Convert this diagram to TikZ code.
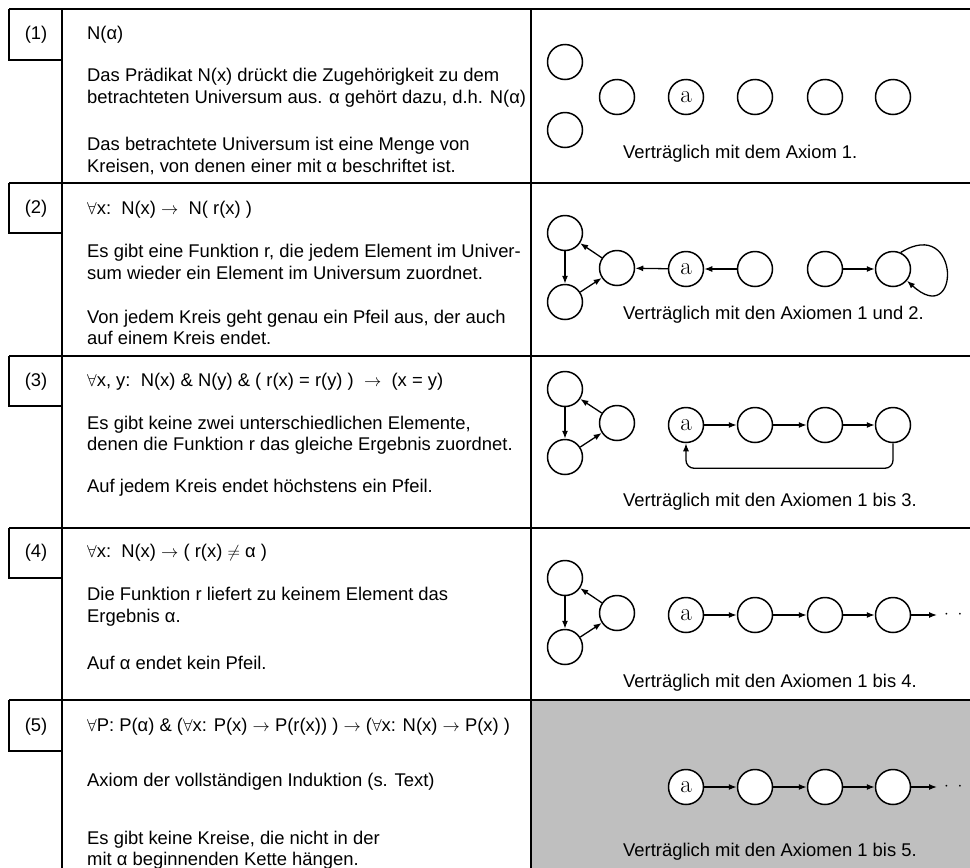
\documentclass[tikz,border=0pt]{standalone}
\usepackage{fontspec}
\setsansfont{Liberation Sans}
\usepackage{tikz}
\usetikzlibrary{positioning,arrows.meta}

\begin{document}
\begin{tikzpicture}[x=1pt,y=-1pt,font=\sffamily\fontsize{18.4}{21.5}\selectfont]
\tikzstyle{every node}+=[inner sep=0pt]
\tikzstyle{linie}=[line width=2pt]
\tikzstyle{kreis}=[draw,circle,minimum size=35pt,line width=1.5pt,fill=white,font=\rmfamily\fontsize{25}{25}\selectfont]
\tikzstyle{pfeil}=[line width=1.3pt,-{Latex[length=8pt,width=6pt]}]
\tikzstyle{txt}=[anchor=west,align=left]
\useasboundingbox (0,0) rectangle (970,868);
\fill [black!25] (531,700) rectangle (970,868);
\draw [linie] (9,9) -- (970,9);
\draw [linie] (9,183) -- (970,183);
\draw [linie] (9,356) -- (970,356);
\draw [linie] (9,528) -- (970,528);
\draw [linie] (9,700) -- (970,700);
\draw [linie] (9,9) |- (62,60);
\draw [linie] (9,183) |- (62,233);
\draw [linie] (9,356) |- (62,406);
\draw [linie] (9,528) |- (62,578);
\draw [linie] (9,700) |- (62,751);
\draw [linie] (62,9) -- (62,868);
\draw [linie] (531,9) -- (531,868);
\node (nr1) at (36,35) {(1)};
\node (nr2) at (36,209) {(2)};
\node (nr3) at (36,382) {(3)};
\node (nr4) at (36,553) {(4)};
\node (nr5) at (36,727) {(5)};
\node [txt] (f1) at (87,35) {N(α)};
\node [txt] (t11) at (87,87.5) {Das Prädikat N(x) drückt die Zugehörigkeit zu dem\\betrachteten Universum aus. α gehört dazu, d.h. N(α)};
\node [txt] (t12) at (87,156) {Das betrachtete Universum ist eine Menge von\\Kreisen, von denen einer mit α beschriftet ist.};
\node [txt] (f2) at (87,210) {$\forall$x:\ \ N(x) $\rightarrow$\ \ N( r(x) )};
\node [txt] (t21) at (87,262) {Es gibt eine Funktion r, die jedem Element im Univer-\\sum wieder ein Element im Universum zuordnet.};
\node [txt] (t22) at (87,327.5) {Von jedem Kreis geht genau ein Pfeil aus, der auch\\auf einem Kreis endet.};
\node [txt] (f3) at (87,382) {$\forall$x, y:\ \ N(x) \& N(y) \& ( r(x) = r(y) )\ \ $\rightarrow$\ \ (x = y)};
\node [txt] (t31) at (87,435) {Es gibt keine zwei unterschiedlichen Elemente,\\denen die Funktion r das gleiche Ergebnis zuordnet.};
\node [txt] (t32) at (87,488) {Auf jedem Kreis endet höchstens ein Pfeil.};
\node [txt] (f4) at (87,553) {$\forall$x:\ \ N(x) $\rightarrow$ ( r(x) $\neq$ α )};
\node [txt] (t41) at (87,606.5) {Die Funktion r liefert zu keinem Element das\\Ergebnis α.};
\node [txt] (t42) at (87,663) {Auf α endet kein Pfeil.};
\node [txt] (f5) at (87,727) {$\forall$P: P(α) \& ($\forall$x: P(x) $\rightarrow$ P(r(x)) ) $\rightarrow$ ($\forall$x: N(x) $\rightarrow$ P(x) )};
\node [txt] (t51) at (87,782) {Axiom der vollständigen Induktion (s. Text)};
\node [txt] (t52) at (87,850) {Es gibt keine Kreise, die nicht in der\\mit α beginnenden Kette hängen.};
\node [txt] (v1) at (623,154) {Verträglich mit dem Axiom 1.};
\node [txt] (v2) at (623,315) {Verträglich mit den Axiomen 1 und 2.};
\node [txt] (v3) at (623,502) {Verträglich mit den Axiomen 1 bis 3.};
\node [txt] (v4) at (623,683) {Verträglich mit den Axiomen 1 bis 4.};
\node [txt] (v5) at (623,852) {Verträglich mit den Axiomen 1 bis 5.};
\node [kreis] (k11) at (565,62) {};
\node [kreis] (k12) at (565,130) {};
\node [kreis] (k13) at (617,97) {};
\node [kreis] (a1) at (686,97) {a};
\node [kreis] (k14) at (755,97) {};
\node [kreis] (k15) at (825,97) {};
\node [kreis] (k16) at (893,97) {};
\node [kreis] (k21) at (565,233) {};
\node [kreis] (k22) at (565,302) {};
\node [kreis] (k23) at (617,268) {};
\node [kreis] (a2) at (686,269) {a};
\node [kreis] (k24) at (755,269) {};
\node [kreis] (k25) at (825,269) {};
\node [kreis] (k26) at (893,269) {};
\draw [pfeil] (k21) -- (k22);
\draw [pfeil] (k22) -- (k23);
\draw [pfeil] (k23) -- (k21);
\draw [pfeil] (a2) -- (k23);
\draw [pfeil] (k24) -- (a2);
\draw [pfeil] (k25) -- (k26);
\draw [pfeil] (k26.65) .. controls (961,215) and (961,330) .. (k26.-40);
\node [kreis] (k31) at (565,389) {};
\node [kreis] (k32) at (565,457) {};
\node [kreis] (k33) at (617,423) {};
\node [kreis] (a3) at (686,425) {a};
\node [kreis] (k34) at (755,425) {};
\node [kreis] (k35) at (825,425) {};
\node [kreis] (k36) at (893,425) {};
\draw [pfeil] (k31) -- (k32);
\draw [pfeil] (k32) -- (k33);
\draw [pfeil] (k33) -- (k31);
\draw [pfeil] (a3) -- (k34);
\draw [pfeil] (k34) -- (k35);
\draw [pfeil] (k35) -- (k36);
\draw [pfeil,rounded corners=8pt] (k36.south) -- ++(0,25) -| (a3.south);
\node [kreis] (k41) at (565,578) {};
\node [kreis] (k42) at (565,647) {};
\node [kreis] (k43) at (617,613) {};
\node [kreis] (a4) at (686,615) {a};
\node [kreis] (k44) at (755,615) {};
\node [kreis] (k45) at (825,615) {};
\node [kreis] (k46) at (893,615) {};
\node [anchor=west,inner xsep=7pt] (dots4) at (937,615) {$\cdotp\mkern6mu\cdotp\mkern6mu\cdotp$};
\draw [pfeil] (k41) -- (k42);
\draw [pfeil] (k42) -- (k43);
\draw [pfeil] (k43) -- (k41);
\draw [pfeil] (a4) -- (k44);
\draw [pfeil] (k44) -- (k45);
\draw [pfeil] (k45) -- (k46);
\draw [pfeil] (k46) -- (dots4);
\node [kreis] (a5) at (686,787) {a};
\node [kreis] (k54) at (755,787) {};
\node [kreis] (k55) at (825,787) {};
\node [kreis] (k56) at (893,787) {};
\node [anchor=west,inner xsep=7pt] (dots5) at (937,787) {$\cdotp\mkern6mu\cdotp\mkern6mu\cdotp$};
\draw [pfeil] (a5) -- (k54);
\draw [pfeil] (k54) -- (k55);
\draw [pfeil] (k55) -- (k56);
\draw [pfeil] (k56) -- (dots5);
\end{tikzpicture}
\end{document}
